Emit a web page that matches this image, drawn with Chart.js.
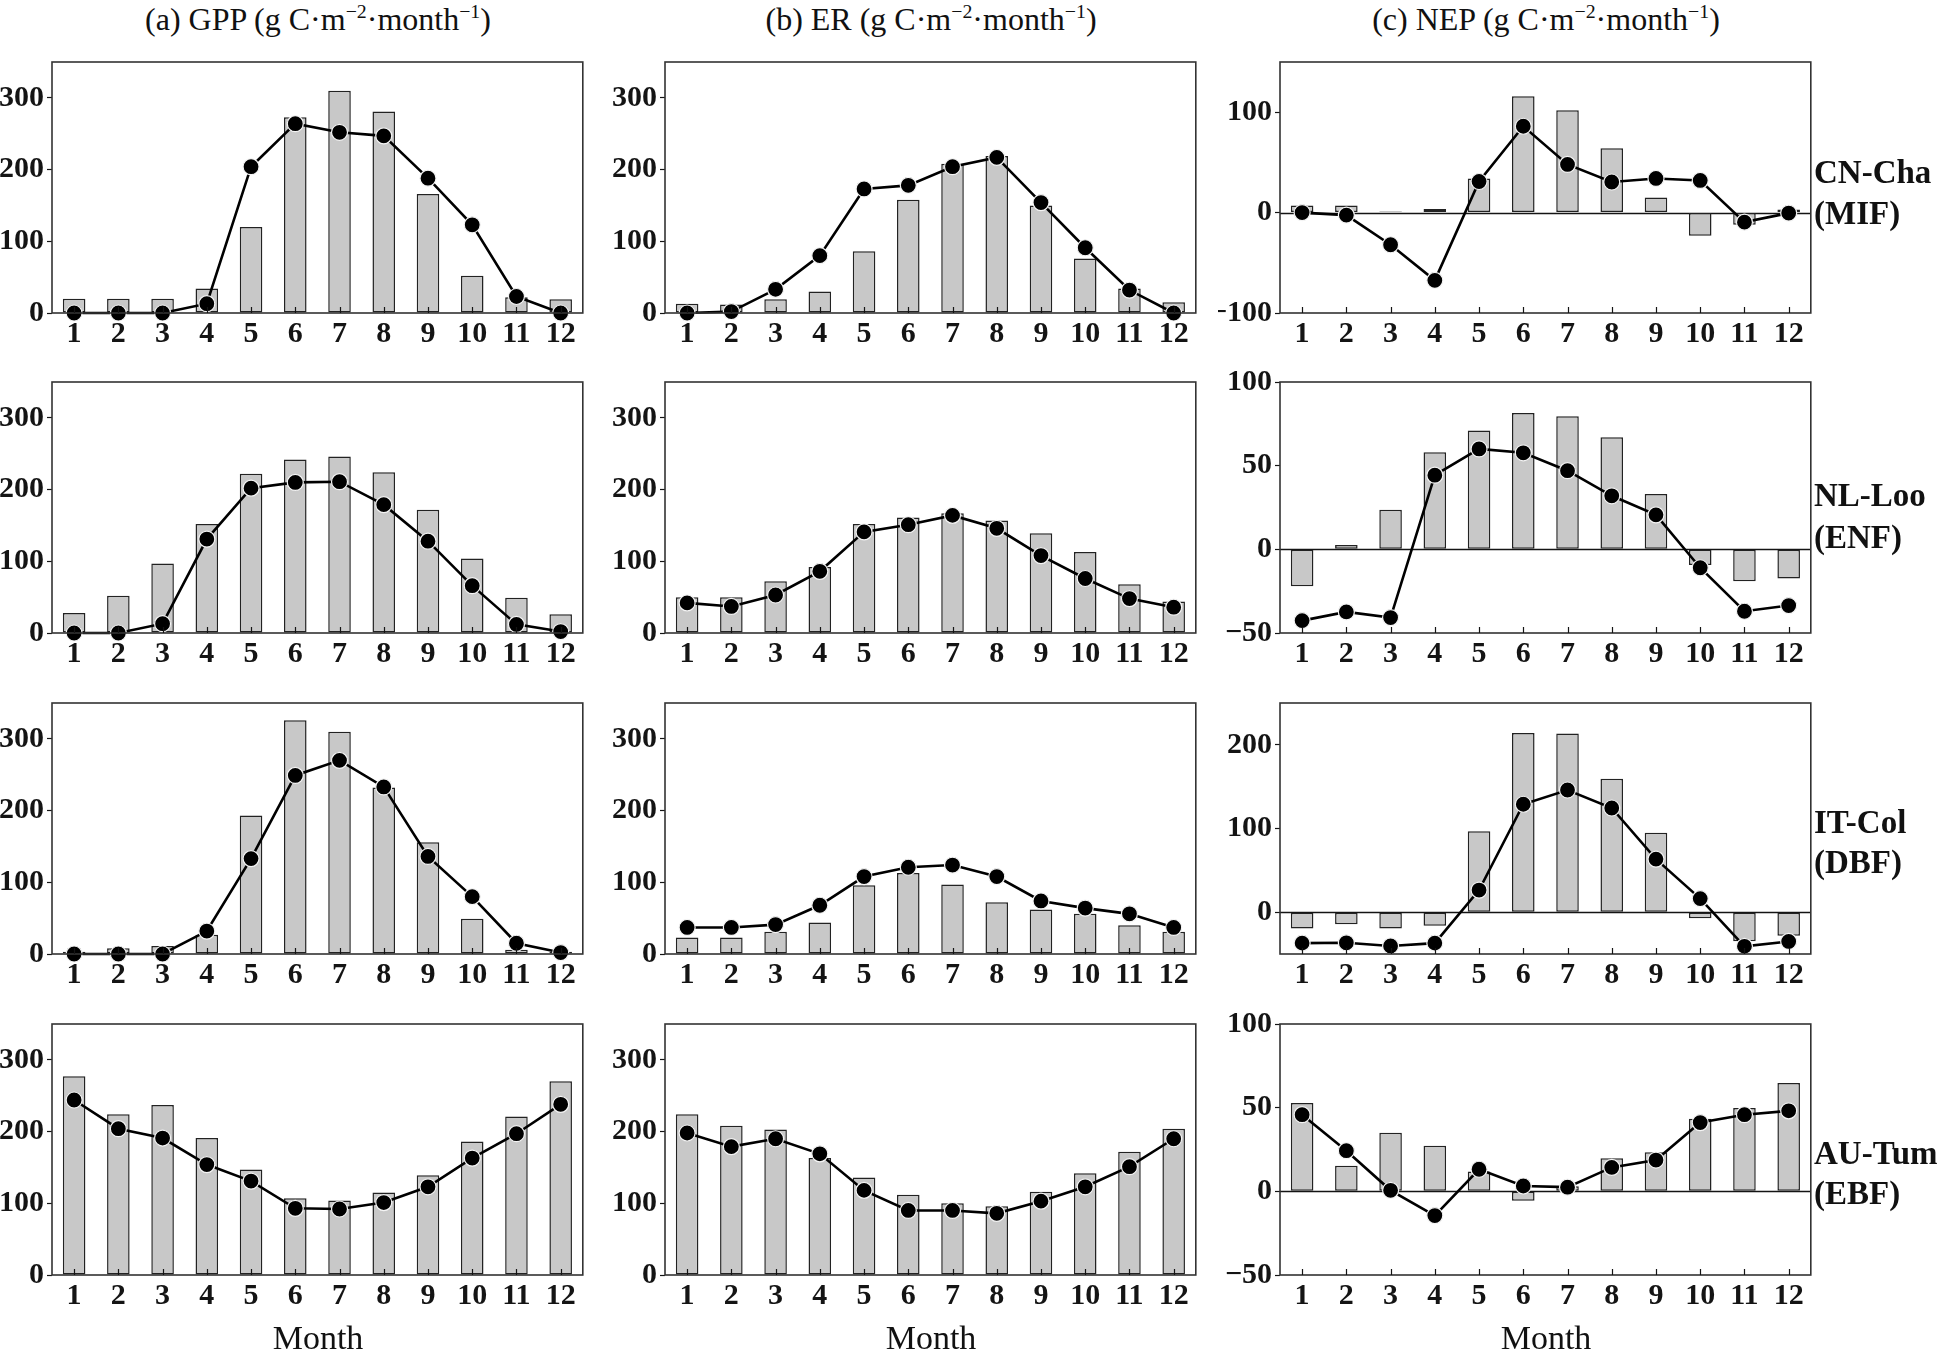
<!DOCTYPE html>
<html><head><meta charset="utf-8">
<script src="https://cdn.jsdelivr.net/npm/chart.js@4.4.1/dist/chart.umd.min.js"></script>
<style>
html,body{margin:0;padding:0;background:#fff;}
body{width:1946px;height:1354px;position:relative;overflow:hidden;font-family:'Liberation Serif','Times New Roman',serif;color:#111;}
.cv{position:absolute;}
.title{position:absolute;font-size:32px;white-space:nowrap;transform:translate(-50%,-50%);line-height:1;}
.site{position:absolute;font-size:33px;font-weight:bold;white-space:nowrap;transform:translateY(-50%);line-height:1;}
.xlab{position:absolute;font-size:34px;white-space:nowrap;transform:translate(-50%,-50%);line-height:1;}
sup{font-size:62%;line-height:0;vertical-align:0.62em;}
</style>
</head><body>
<script>
// ---------------- DATA ----------------
const months = ['1','2','3','4','5','6','7','8','9','10','11','12'];
const columnTitles = ['(a) GPP (g C·m<sup>−2</sup>·month<sup>−1</sup>)','(b) ER (g C·m<sup>−2</sup>·month<sup>−1</sup>)','(c) NEP (g C·m<sup>−2</sup>·month<sup>−1</sup>)'];
const siteNames = ['CN-Cha','NL-Loo','IT-Col','AU-Tum'];
const siteTypes = ['(MIF)','(ENF)','(DBF)','(EBF)'];
const xAxisTitle = 'Month';

// GPP
const gppCN_bar = [20,20,20,34,120,273,310,281,166,52,22,19];
const gppCN_dot = [0,0,0,13,204,264,252,247,188,123,23,0];
const gppNL_bar = [28,52,97,152,222,242,246,224,172,104,49,26];
const gppNL_dot = [0,0,13,131,202,210,211,179,128,66,12,2];
const gppIT_bar = [3,8,11,27,193,326,310,232,156,49,6,3];
const gppIT_dot = [0,0,0,32,133,249,270,233,136,80,15,2];
const gppAU_bar = [277,224,237,191,147,107,104,115,139,186,221,270];
const gppAU_dot = [244,204,191,154,131,93,92,101,123,163,197,238];
// ER
const erCN_bar = [13,12,19,30,86,158,208,219,150,76,34,15];
const erCN_dot = [0,2,33,80,173,178,204,217,154,91,32,0];
const erNL_bar = [50,50,72,92,152,161,167,157,139,113,68,44];
const erNL_dot = [42,37,53,86,141,151,164,146,108,76,48,36];
const erIT_bar = [23,23,31,44,96,113,97,72,62,56,40,31];
const erIT_dot = [37,37,41,68,108,121,124,108,74,64,56,37];
const erAU_bar = [224,208,203,163,136,112,100,96,116,142,172,204];
const erAU_dot = [198,179,190,169,118,90,90,86,103,123,151,190];
// NEP
const nepCN_bar = [7,7,1,3.5,34,116,102,64,15,-23,-12,3];
const nepCN_dot = [0,-2.5,-32,-67.5,31,86,48,30.5,34,32,-9.5,-0.5];
const nepNL_bar = [-22,2.6,23.6,58,71,81.5,79.6,67,33,-9.4,-19,-17.5];
const nepNL_dot = [-42.6,-37.4,-40.8,44.3,60,57.7,47,32,20.6,-11,-37,-33.6];
const nepIT_bar = [-19.6,-14.3,-19.6,-16.2,96.6,214,213.6,159.6,95,-7.2,-34.7,-28.3];
const nepIT_dot = [-37,-36.6,-40.4,-37,26.4,129,146,124.5,63.4,16.2,-40.8,-35];
const nepAU_bar = [52.8,15.3,35,27.2,11.9,-5.7,3,19.8,23.4,43.4,49.8,64.7];
const nepAU_dot = [45.8,24.3,0.6,-14.5,13.2,3.2,2.5,14.3,18.7,41.1,45.8,48.1];

// axis ranges and tick labels
const fluxRange = [0,350];
const fluxTicks = [0,100,200,300];
const nepCN_range = [-100,150]; const nepCN_ticks = [-100,0,100];
const nepNL_range = [-50,100];  const nepNL_ticks = [-50,0,50,100];
const nepIT_range = [-50,250];  const nepIT_ticks = [0,100,200];
const nepAU_range = [-50,100];  const nepAU_ticks = [-50,0,50,100];

// ---------------- LAYOUT ----------------
const colLeft = [52, 665, 1280];
const rowTop = [49, 369, 690, 1011];
const plotW = 532, plotH = 264;
const yAxisW = 62, xAxisH = 46, padTop = 8, padRight = 8;
const siteY1 = [172, 495, 822, 1153];
const siteY2 = [213, 537, 862, 1193];
const siteX = 1814;

const panels = [
  [ {bar:gppCN_bar,dot:gppCN_dot,range:fluxRange,ticks:fluxTicks},
    {bar:erCN_bar,dot:erCN_dot,range:fluxRange,ticks:fluxTicks},
    {bar:nepCN_bar,dot:nepCN_dot,range:nepCN_range,ticks:nepCN_ticks} ],
  [ {bar:gppNL_bar,dot:gppNL_dot,range:fluxRange,ticks:fluxTicks},
    {bar:erNL_bar,dot:erNL_dot,range:fluxRange,ticks:fluxTicks},
    {bar:nepNL_bar,dot:nepNL_dot,range:nepNL_range,ticks:nepNL_ticks} ],
  [ {bar:gppIT_bar,dot:gppIT_dot,range:fluxRange,ticks:fluxTicks},
    {bar:erIT_bar,dot:erIT_dot,range:fluxRange,ticks:fluxTicks},
    {bar:nepIT_bar,dot:nepIT_dot,range:nepIT_range,ticks:nepIT_ticks} ],
  [ {bar:gppAU_bar,dot:gppAU_dot,range:fluxRange,ticks:fluxTicks},
    {bar:erAU_bar,dot:erAU_dot,range:fluxRange,ticks:fluxTicks},
    {bar:nepAU_bar,dot:nepAU_dot,range:nepAU_range,ticks:nepAU_ticks} ]
];

const INK = '#141414';
const FONT = "'Liberation Serif','Times New Roman',serif";
Chart.defaults.font.family = FONT;
Chart.defaults.color = INK;

const framePlugin = {
  id: 'frame',
  beforeDatasetsDraw(chart) {
    const {ctx, chartArea: a, scales: {y}} = chart;
    if (y.min < 0) {
      const py = Math.round(y.getPixelForValue(0)) + 0.5;
      ctx.save();
      ctx.strokeStyle = INK; ctx.lineWidth = 1.6;
      ctx.beginPath(); ctx.moveTo(a.left, py); ctx.lineTo(a.right, py); ctx.stroke();
      ctx.restore();
    }
  },
  afterDraw(chart) {
    const {ctx, chartArea: a, scales: {x}} = chart;
    ctx.save();
    ctx.strokeStyle = '#333'; ctx.lineWidth = 1.6;
    ctx.strokeRect(a.left, a.top, a.right - a.left, a.bottom - a.top);
    ctx.strokeStyle = INK; ctx.lineWidth = 1.2;
    ctx.beginPath();
    for (let i = 0; i < x.ticks.length; i++) {
      const px = Math.round(x.getPixelForTick(i)) + 0.5;
      ctx.moveTo(px, a.bottom); ctx.lineTo(px, a.bottom - 6);
    }
    ctx.stroke();
    ctx.restore();
  }
};

function fmt(v) { return v < 0 ? '\u2212' + Math.abs(v) : String(v); }

for (let r = 0; r < 4; r++) {
  for (let c = 0; c < 3; c++) {
    const p = panels[r][c];
    const cv = document.createElement('canvas');
    const W = yAxisW + plotW + padRight, H = padTop + plotH + xAxisH;
    cv.width = W; cv.height = H;
    cv.className = 'cv';
    cv.style.left = (colLeft[c] - yAxisW) + 'px';
    cv.style.top = (rowTop[r] - padTop) + 'px';
    cv.style.width = W + 'px'; cv.style.height = H + 'px';
    document.body.appendChild(cv);
    const tickVals = p.ticks;
    new Chart(cv, {
      type: 'bar',
      data: {
        labels: months,
        datasets: [
          { type: 'line', data: p.dot, order: 0, borderColor: '#000', borderWidth: 2.6,
            pointRadius: 8, pointBackgroundColor: '#000', pointBorderColor: '#f4f4f4',
            pointBorderWidth: 1.2, tension: 0, fill: false, clip: false },
          { type: 'bar', data: p.bar, order: 1, backgroundColor: '#c8c8c8',
            borderColor: '#222', borderWidth: 1.5, borderSkipped: false,
            barPercentage: 0.51, categoryPercentage: 1.0 }
        ]
      },
      options: {
        responsive: false, animation: false, devicePixelRatio: 1,
        layout: { padding: { top: padTop, right: padRight, left: 0, bottom: 0 } },
        plugins: { legend: { display: false }, tooltip: { enabled: false }, title: { display: false } },
        scales: {
          x: {
            type: 'category', offset: true,
            grid: { display: true, drawOnChartArea: false, drawTicks: false },
            border: { display: false },
            ticks: { color: INK, padding: 3, maxRotation: 0, autoSkip: false,
                     font: { size: 30, weight: 'bold', family: FONT, lineHeight: 1.2 } },
            afterFit(s) { s.height = xAxisH; }
          },
          y: {
            min: p.range[0], max: p.range[1],
            grid: { display: true, drawOnChartArea: false, drawTicks: true, tickLength: 5,
                    tickColor: INK, tickWidth: 1.2 },
            border: { display: false },
            afterBuildTicks(s) { s.ticks = tickVals.map(v => ({ value: v })); },
            ticks: { color: INK, padding: 3, callback: v => fmt(v),
                     font: { size: 30, weight: 'bold', family: FONT } },
            afterFit(s) { s.width = yAxisW; }
          }
        }
      },
      plugins: [framePlugin]
    });
  }
}

// column titles and x-axis titles
for (let c = 0; c < 3; c++) {
  const d = document.createElement('div');
  d.className = 'title';
  d.innerHTML = columnTitles[c];
  d.style.left = (colLeft[c] + plotW / 2) + 'px';
  d.style.top = '19px';
  document.body.appendChild(d);
  const m = document.createElement('div');
  m.className = 'xlab';
  m.textContent = xAxisTitle;
  m.style.left = (colLeft[c] + plotW / 2) + 'px';
  m.style.top = '1338px';
  document.body.appendChild(m);
}
// site labels
for (let r = 0; r < 4; r++) {
  const a = document.createElement('div');
  a.className = 'site'; a.textContent = siteNames[r];
  a.style.left = siteX + 'px'; a.style.top = siteY1[r] + 'px';
  document.body.appendChild(a);
  const b = document.createElement('div');
  b.className = 'site'; b.textContent = siteTypes[r];
  b.style.left = siteX + 'px'; b.style.top = siteY2[r] + 'px';
  document.body.appendChild(b);
}
</script>
</body></html>
